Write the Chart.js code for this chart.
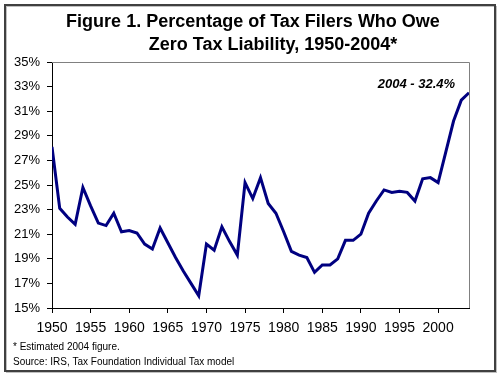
<!DOCTYPE html>
<html>
<head>
<meta charset="utf-8">
<script src="https://cdn.jsdelivr.net/npm/chart.js@4/dist/chart.umd.min.js"></script>
<style>
  html, body { margin: 0; padding: 0; background: #fff; }
  #wrap { width: 500px; height: 375px; }
</style>
</head>
<body>
<div id="wrap"><canvas id="zeroTax" width="500" height="375"></canvas></div>
<script>
// years and share of filers with zero tax liability (%)
let years = [1950, 1951, 1952, 1953, 1954, 1955, 1956, 1957, 1958, 1959,
  1960, 1961, 1962, 1963, 1964, 1965, 1966, 1967, 1968, 1969,
  1970, 1971, 1972, 1973, 1974, 1975, 1976, 1977, 1978, 1979,
  1980, 1981, 1982, 1983, 1984, 1985, 1986, 1987, 1988, 1989,
  1990, 1991, 1992, 1993, 1994, 1995, 1996, 1997, 1998, 1999,
  2000, 2001, 2002, 2003, 2004];
let zeroLiability = [28.1, 23.1, 22.4, 21.8, 24.8, 23.3, 21.9, 21.7, 22.7, 21.2,
  21.3, 21.1, 20.2, 19.8, 21.5, 20.3, 19.1, 18.0, 17.0, 16.0,
  20.2, 19.7, 21.6, 20.4, 19.3, 25.2, 23.9, 25.6, 23.5, 22.7,
  21.2, 19.6, 19.3, 19.1, 17.9, 18.5, 18.5, 19.0, 20.5, 20.5,
  21.0, 22.7, 23.7, 24.6, 24.4, 24.5, 24.4, 23.7, 25.5, 25.6,
  25.2, 27.7, 30.2, 31.9, 32.5];
let yearTicks = [1950, 1955, 1960, 1965, 1970, 1975, 1980, 1985, 1990, 1995, 2000];
let titleLines = ['Figure 1. Percentage of Tax Filers Who Owe', 'Zero Tax Liability, 1950-2004*'];
let footnotes = ['* Estimated 2004 figure.', 'Source: IRS, Tax Foundation Individual Tax model'];
let calloutText = '2004 - 32.4%';

let font = "Arial, 'Liberation Sans', sans-serif";
let ctx = document.getElementById('zeroTax').getContext('2d');

let points = years.map((yr, i) => ({x: yr, y: zeroLiability[i]}));

let decorations = {
  id: 'decorations',
  beforeDraw(chart) {
    let c = chart.ctx;
    c.save();
    c.fillStyle = '#fff';
    c.fillRect(0, 0, chart.width, chart.height);
    // outer frame
    c.strokeStyle = '#c0c0c0';
    c.lineWidth = 1;
    c.strokeRect(6.5, 6.5, 490, 366);
    c.strokeStyle = '#404040';
    c.lineWidth = 2;
    c.strokeRect(5, 5, 490, 366);
    c.restore();
  },
  afterDraw(chart) {
    let c = chart.ctx;
    let area = chart.chartArea;
    let xs = chart.scales.x, ys = chart.scales.y;
    c.save();
    // top and right plot border
    c.strokeStyle = '#808080';
    c.lineWidth = 1;
    c.beginPath();
    c.moveTo(area.left, area.top + 0.5);
    c.lineTo(area.right + 0.5, area.top + 0.5);
    c.lineTo(area.right + 0.5, area.bottom);
    c.stroke();

    c.fillStyle = '#000';
    c.textAlign = 'center';
    c.textBaseline = 'alphabetic';
    c.font = 'bold 18px ' + font;
    c.fillText(titleLines[0], 253, 27);
    c.fillText(titleLines[1], 273, 50);

    c.font = 'italic bold 13px ' + font;
    c.textAlign = 'right';
    c.fillText(calloutText, xs.getPixelForValue(2002.2), ys.getPixelForValue(32.9));

    c.font = '10px ' + font;
    c.textAlign = 'left';
    c.fillText(footnotes[0], 13, 350);
    c.fillText(footnotes[1], 13, 365);
    c.restore();
  }
};

let chart = new Chart(ctx, {
  type: 'line',
  data: {
    datasets: [{
      label: 'Zero tax liability',
      data: points,
      borderColor: '#000080',
      borderWidth: 3,
      pointRadius: 0,
      tension: 0,
      fill: false
    }]
  },
  options: {
    responsive: false,
    animation: false,
    layout: { padding: { top: 62, right: 31, left: 0, bottom: 0 } },
    plugins: {
      legend: { display: false },
      title: { display: false },
      tooltip: { enabled: false }
    },
    scales: {
      x: {
        type: 'linear',
        min: 1950,
        max: 2004,
        afterFit: s => { s.height = 67; },
        afterBuildTicks: s => { s.ticks = yearTicks.map(v => ({value: v})); },
        border: { color: '#000', width: 1 },
        grid: { drawOnChartArea: false, drawTicks: true, tickLength: 5, color: '#000' },
        ticks: {
          padding: 7,
          autoSkip: false,
          color: '#000',
          font: { family: font, size: 14 },
          maxRotation: 0,
          callback: v => String(v)
        }
      },
      y: {
        min: 15,
        max: 35,
        afterFit: s => { s.width = 52; },
        border: { color: '#000', width: 1 },
        grid: { drawOnChartArea: false, drawTicks: true, tickLength: 5, color: '#000' },
        ticks: {
          stepSize: 2,
          padding: 7,
          color: '#000',
          font: { family: font, size: 13 },
          callback: v => v + '%'
        }
      }
    }
  },
  plugins: [decorations]
});
</script>
</body>
</html>
